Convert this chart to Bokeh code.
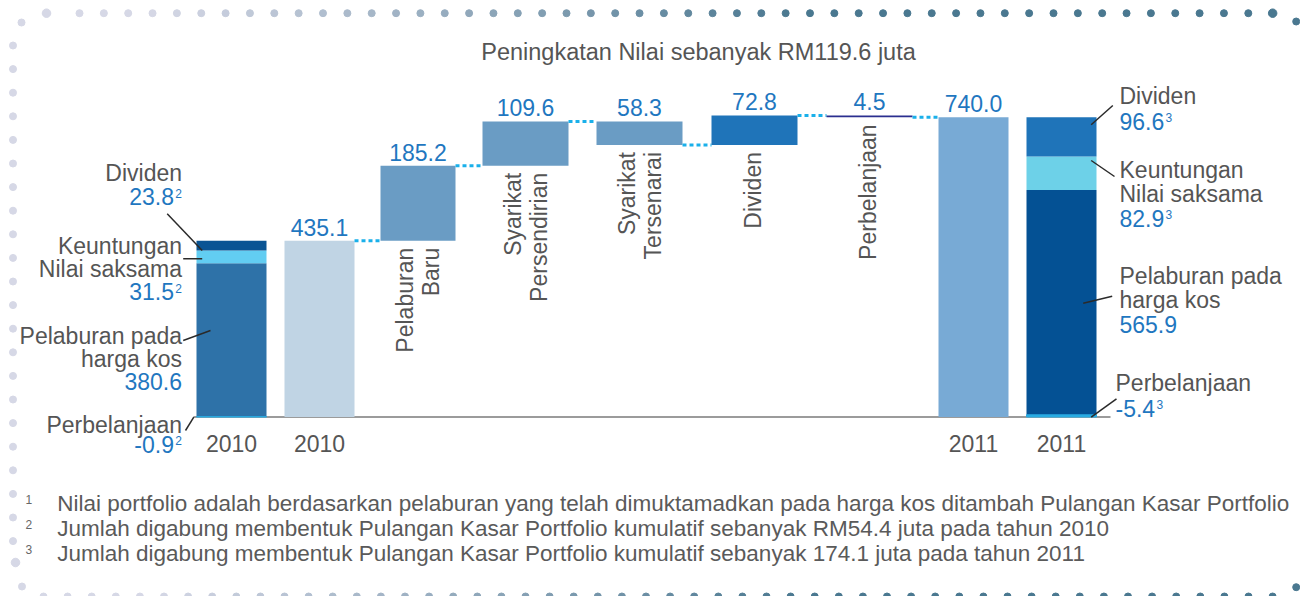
import numpy as np
from bokeh.plotting import figure
from bokeh.models import Range1d
from bokeh.core.properties import value
from bokeh.embed import file_html
from bokeh.resources import INLINE

# ---------------- data ----------------
title_text = "Peningkatan Nilai sebanyak RM119.6 juta"
start_value = 435.1          # 2010 portfolio value
end_value = 740.0            # 2011 portfolio value
step_names = [["Pelaburan", "Baru"], ["Syarikat", "Persendirian"],
              ["Syarikat", "Tersenarai"], ["Dividen"], ["Perbelanjaan"]]
step_values = [185.2, 109.6, -58.3, 72.8, -4.5]
step_labels = ["185.2", "109.6", "58.3", "72.8", "4.5"]

part_names = [["Perbelanjaan"], ["Pelaburan pada", "harga kos"],
              ["Keuntungan", "Nilai saksama"], ["Dividen"]]
parts_2010 = [-0.9, 380.6, 31.5, 23.8]
parts_2011 = [-5.4, 565.9, 82.9, 96.6]
parts_2010_labels = ["-0.9", "380.6", "31.5", "23.8"]
parts_2011_labels = ["-5.4", "565.9", "82.9", "96.6"]
parts_2010_note = ["2", "", "2", "2"]
parts_2011_note = ["3", "", "3", "3"]
year_labels = ["2010", "2010", "2011", "2011"]
footnote_marks = ["1", "2", "3"]
footnotes = [
    "Nilai portfolio adalah berdasarkan pelaburan yang telah dimuktamadkan pada harga kos ditambah Pulangan Kasar Portfolio",
    "Jumlah digabung membentuk Pulangan Kasar Portfolio kumulatif sebanyak RM54.4 juta pada tahun 2010",
    "Jumlah digabung membentuk Pulangan Kasar Portfolio kumulatif sebanyak 174.1 juta pada tahun 2011",
]

# ---------------- layout / style ----------------
FONT = "Liberation Sans"
GRAY = "#555555"
BLUE = "#1f77c0"
W, H = 1300, 596
K = 0.405            # px per unit
Y0 = 416.5           # page y of zero


def Y(py):
    return (Y0 - py) / K


def D(px):
    return px / K


p = figure(width=W, height=H, x_range=Range1d(0, W), y_range=Range1d(Y(H), Y(0)),
           output_backend="svg", toolbar_location=None, min_border=0,
           x_axis_type=None, y_axis_type=None, outline_line_color=None,
           background_fill_color="white", border_fill_color="white")
p.grid.visible = False


def txt(x, base_py, s, size=23, color=GRAY, align="left"):
    """Horizontal text; base_py = page y of the alphabetic baseline."""
    p.text(x=[x], y=[Y(base_py - 0.35 * size)], text=[s], text_font=value(FONT),
           text_font_size=value(f"{size}px"), text_color=color, text_align=align,
           text_baseline="middle")


def vtxt(x, y, s, size=23, color=GRAY):
    p.text(x=[x], y=[y], text=[s], text_font=value(FONT), text_font_size=value(f"{size}px"),
           text_color=color, text_align="right", text_baseline="middle", angle=np.pi / 2)


# ---------------- border dots ----------------
LAV = np.array([214, 216, 230])
TEAL = np.array([74, 120, 144])


def grad(x):
    t = np.clip((x - 150.0) / 650.0, 0, 1)
    c = LAV + (TEAL - LAV) * t
    return "#%02x%02x%02x" % tuple(int(v) for v in c)


top_x = [46.0] + list(79 + 24.35 * np.arange(50))
top_sz = [8.5] + [7] * 49 + [8.5]
p.scatter(top_x, [Y(12.7)] * len(top_x), size=top_sz, color=[grad(x) for x in top_x])
p.scatter([21.0, 1295.7], [Y(22), Y(21)], size=7, color=[grad(21), grad(1295.7)])
left_y = list(45 + 23.6 * np.arange(22))
p.scatter([12.5] * len(left_y), [Y(v) for v in left_y], size=7, color=grad(0))
p.scatter([15.0, 21.5], [Y(562), Y(586)], size=[8.5, 7], color=grad(0))
bot_x = list(43 + 24.1 * np.arange(52))
p.scatter(bot_x, [Y(596)] * len(bot_x), size=7, color=[grad(x) for x in bot_x])
p.scatter([1295.7], [Y(586.7)], size=7, color=grad(1295.7))

# ---------------- bars ----------------
# slot centres / widths in page px: 2010 stack, 2010 total, 5 steps, 2011 total, 2011 stack
centres = [231, 319, 417.5, 525, 639, 754, 869, 973, 1061]
widths = [70, 70, 75, 86, 86, 86, 86, 70, 70]


def edges(i):
    return centres[i] - widths[i] / 2, centres[i] + widths[i] / 2


# baseline
p.line([193, 1110], [0, 0], line_color="#7a7a7a", line_width=1.5)


def stack(i, parts, colors):
    total = sum(parts)
    l, r = edges(i)
    neg = -parts[0]
    div_b = total - parts[3]
    keu_b = div_b - parts[2]
    p.quad(left=[l], right=[r], bottom=[0], top=[keu_b], fill_color=colors[1], line_color=None)
    p.quad(left=[l], right=[r], bottom=[keu_b], top=[div_b], fill_color=colors[2], line_color=None)
    p.quad(left=[l], right=[r], bottom=[div_b], top=[total], fill_color=colors[3], line_color=None)
    p.quad(left=[l], right=[r], bottom=[0], top=[neg], fill_color=colors[0],
           line_color=colors[0], line_width=1)
    return total


stack(0, parts_2010, ["#29abe2", "#2e72a8", "#62cdf2", "#0a5494"])
stack(8, parts_2011, ["#29abe2", "#045194", "#6dd1e8", "#1f74b9"])

# totals
l, r = edges(1)
p.quad(left=[l], right=[r], bottom=[0], top=[start_value], fill_color="#c0d4e4", line_color=None)
txt(centres[1], Y0 - start_value * K - 5.5, f"{start_value:.1f}", color=BLUE, align="center")
l, r = edges(7)
p.quad(left=[l], right=[r], bottom=[0], top=[end_value], fill_color="#78aad5", line_color=None)
txt(centres[7], Y0 - end_value * K - 5.5, f"{end_value:.1f}", color=BLUE, align="center")

# waterfall steps
step_colors = ["#6a9cc4", "#6a9cc4", "#6a9cc4", "#1f74b9", "#2b2f8f"]
level = start_value
prev_right = edges(1)[1]
for j, v in enumerate(step_values):
    i = j + 2
    l, r = edges(i)
    p.line([prev_right, l], [level, level], line_color="#1ab0ea", line_width=3, line_dash="4 3")
    lo, hi = min(level, level + v), max(level, level + v)
    p.quad(left=[l], right=[r], bottom=[lo], top=[hi], fill_color=step_colors[j], line_color=None)
    txt(centres[i], Y0 - hi * K - 5.5, step_labels[j], color=BLUE, align="center")
    names = step_names[j]
    offs = [-2] if len(names) == 1 else [-13, 13]
    for nm, o in zip(names, offs):
        vtxt(centres[i] + o, lo - D(7), nm)
    level = level + v
    prev_right = r
l7 = edges(7)[0]
p.line([prev_right, l7], [level, level], line_color="#1ab0ea", line_width=3, line_dash="4 3")

# years
for i, yl in zip([0, 1, 7, 8], year_labels):
    txt(centres[i], 451.5, yl, align="center")

# title
txt(698, 60, title_text, size=23.5, align="center")

# ---------------- left legend (2010) ----------------
LX = 181.5
txt(LX, 181, part_names[3][0], align="right")
txt(LX - 8, 204.5, parts_2010_labels[3], color=BLUE, align="right")
txt(LX, 197, parts_2010_note[3], size=12, color=BLUE, align="right")
txt(LX, 254, part_names[2][0], align="right")
txt(LX, 276.5, part_names[2][1], align="right")
txt(LX - 8, 299.5, parts_2010_labels[2], color=BLUE, align="right")
txt(LX, 292, parts_2010_note[2], size=12, color=BLUE, align="right")
txt(LX, 344, part_names[1][0], align="right")
txt(LX, 366.5, part_names[1][1], align="right")
txt(LX, 389.5, parts_2010_labels[1], color=BLUE, align="right")
txt(LX, 432.5, part_names[0][0], align="right")
txt(LX - 8, 452, parts_2010_labels[0], color=BLUE, align="right")
txt(LX, 444.5, parts_2010_note[0], size=12, color=BLUE, align="right")

lead = dict(line_color="#2a2a2a", line_width=1.5)
p.line([166.7, 201.7], [Y(213.3), Y(250)], **lead)
p.line([182.7, 201.7], [Y(258.3), Y(258.3)], **lead)
p.line([182.7, 210], [Y(340), Y(330)], **lead)
p.line([185, 193.3], [Y(430), Y(416.7)], **lead)

# ---------------- right legend (2011) ----------------
RX = 1119
txt(RX, 104, part_names[3][0])
txt(RX, 129, parts_2011_labels[3], color=BLUE)
txt(1165, 121.5, parts_2011_note[3], size=12, color=BLUE)
txt(RX, 177.5, part_names[2][0])
txt(RX, 202, part_names[2][1])
txt(RX, 226, parts_2011_labels[2], color=BLUE)
txt(1165, 218.5, parts_2011_note[2], size=12, color=BLUE)
txt(RX, 284, part_names[1][0])
txt(RX, 307.5, part_names[1][1])
txt(RX, 332.5, parts_2011_labels[1], color=BLUE)
txt(1115, 391, part_names[0][0])
txt(1115, 416, parts_2011_labels[0], color=BLUE)
txt(1156, 408.5, parts_2011_note[0], size=12, color=BLUE)

p.line([1090.7, 1112.3], [Y(124.3), Y(105)], **lead)
p.line([1090.7, 1114], [Y(160), Y(176)], **lead)
p.line([1082.7, 1111.7], [Y(302.7), Y(295.7)], **lead)
p.line([1090.7, 1116], [Y(416.7), Y(398.3)], **lead)

# ---------------- footnotes ----------------
for n, (m, f) in enumerate(zip(footnote_marks, footnotes)):
    base = 510.5 + 25 * n
    txt(25, base - 7, m, size=12, color="#666666")
    txt(56.7, base, f, size=22.5, color="#5a5a5a")

open("out.html", "w").write(file_html(p, INLINE))
